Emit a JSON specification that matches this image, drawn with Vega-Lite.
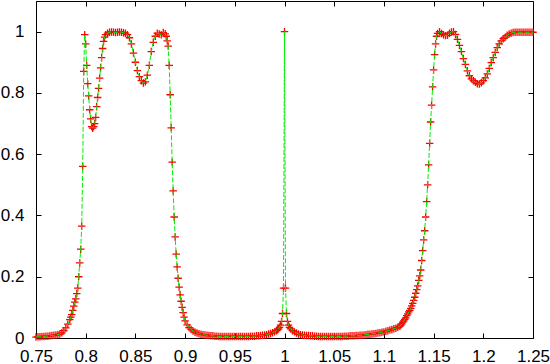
{
"$schema": "https://vega.github.io/schema/vega-lite/v6.json",
"width": 497, "height": 337,
"autosize": {"type": "none"},
"padding": {"left": 36, "top": 1, "right": 17, "bottom": 26},
"background": "white",
"config": {"view": {"stroke": "black", "strokeWidth": 1}, "axis": {"domain": false, "grid": false, "tickColor": "black", "tickSize": -5, "tickWidth": 1, "labelFont": "Liberation Sans", "labelFontSize": 17, "labelColor": "black", "labelFlush": false, "labelOverlap": false, "title": null}},
"data": {"values": [
{"x":0.750,"y":0.003},{"x":0.752,"y":0.004},{"x":0.754,"y":0.004},{"x":0.756,"y":0.005},{"x":0.758,"y":0.005},{"x":0.760,"y":0.006},{"x":0.762,"y":0.006},{"x":0.764,"y":0.007},{"x":0.766,"y":0.008},{"x":0.768,"y":0.009},{"x":0.770,"y":0.010},{"x":0.772,"y":0.011},{"x":0.774,"y":0.013},{"x":0.776,"y":0.017},{"x":0.778,"y":0.024},{"x":0.780,"y":0.033},{"x":0.782,"y":0.045},{"x":0.784,"y":0.060},
{"x":0.785,"y":0.068},{"x":0.786,"y":0.076},{"x":0.787,"y":0.090},{"x":0.788,"y":0.104},{"x":0.789,"y":0.117},{"x":0.790,"y":0.128},{"x":0.791,"y":0.145},{"x":0.792,"y":0.163},{"x":0.793,"y":0.200},{"x":0.794,"y":0.245},{"x":0.795,"y":0.290},{"x":0.796,"y":0.365},{"x":0.797,"y":0.560},{"x":0.798,"y":0.870},{"x":0.799,"y":0.990},{"x":0.800,"y":0.960},{"x":0.801,"y":0.890},{"x":0.802,"y":0.830},{"x":0.803,"y":0.790},{"x":0.804,"y":0.745},{"x":0.805,"y":0.715},{"x":0.806,"y":0.690},{"x":0.807,"y":0.685},{"x":0.808,"y":0.690},{"x":0.809,"y":0.700},{"x":0.810,"y":0.720},{"x":0.811,"y":0.755},{"x":0.812,"y":0.785},{"x":0.813,"y":0.815},{"x":0.814,"y":0.848},{"x":0.815,"y":0.882},{"x":0.816,"y":0.915},{"x":0.817,"y":0.945},{"x":0.818,"y":0.968},{"x":0.819,"y":0.982},{"x":0.820,"y":0.990},
{"x":0.822,"y":0.995},{"x":0.824,"y":0.998},{"x":0.826,"y":0.999},{"x":0.828,"y":0.998},{"x":0.830,"y":0.997},{"x":0.832,"y":0.998},{"x":0.834,"y":0.999},{"x":0.836,"y":0.998},{"x":0.838,"y":0.996},{"x":0.840,"y":0.995},{"x":0.842,"y":0.990},{"x":0.844,"y":0.980},{"x":0.846,"y":0.960},{"x":0.848,"y":0.930},{"x":0.850,"y":0.900},{"x":0.852,"y":0.873},{"x":0.854,"y":0.853},{"x":0.856,"y":0.840},{"x":0.858,"y":0.832},{"x":0.860,"y":0.836},{"x":0.862,"y":0.858},{"x":0.864,"y":0.890},{"x":0.866,"y":0.935},{"x":0.868,"y":0.965},{"x":0.870,"y":0.985},{"x":0.872,"y":0.995},{"x":0.874,"y":0.992},{"x":0.876,"y":0.990},{"x":0.878,"y":0.997},{"x":0.880,"y":0.993},
{"x":0.881,"y":0.985},{"x":0.882,"y":0.970},{"x":0.883,"y":0.953},{"x":0.884,"y":0.890},{"x":0.885,"y":0.794},{"x":0.886,"y":0.686},{"x":0.887,"y":0.574},{"x":0.888,"y":0.480},{"x":0.889,"y":0.395},{"x":0.890,"y":0.330},{"x":0.891,"y":0.274},{"x":0.892,"y":0.232},{"x":0.893,"y":0.195},{"x":0.894,"y":0.166},{"x":0.895,"y":0.141},{"x":0.896,"y":0.120},{"x":0.897,"y":0.100},{"x":0.898,"y":0.083},{"x":0.899,"y":0.068},{"x":0.900,"y":0.056},
{"x":0.902,"y":0.043},{"x":0.904,"y":0.034},{"x":0.906,"y":0.028},{"x":0.908,"y":0.023},{"x":0.910,"y":0.019},{"x":0.912,"y":0.016},{"x":0.914,"y":0.014},{"x":0.916,"y":0.012},{"x":0.918,"y":0.011},{"x":0.920,"y":0.010},{"x":0.922,"y":0.009},{"x":0.924,"y":0.008},{"x":0.926,"y":0.007},{"x":0.928,"y":0.007},{"x":0.930,"y":0.006},{"x":0.932,"y":0.006},{"x":0.934,"y":0.005},{"x":0.936,"y":0.005},{"x":0.938,"y":0.005},{"x":0.940,"y":0.005},{"x":0.942,"y":0.005},{"x":0.944,"y":0.005},{"x":0.946,"y":0.005},{"x":0.948,"y":0.005},{"x":0.950,"y":0.005},{"x":0.952,"y":0.005},{"x":0.954,"y":0.005},{"x":0.956,"y":0.005},{"x":0.958,"y":0.005},{"x":0.960,"y":0.005},{"x":0.962,"y":0.005},{"x":0.964,"y":0.005},{"x":0.966,"y":0.006},{"x":0.968,"y":0.006},{"x":0.970,"y":0.006},{"x":0.972,"y":0.007},{"x":0.974,"y":0.007},{"x":0.976,"y":0.008},{"x":0.978,"y":0.009},{"x":0.980,"y":0.010},{"x":0.982,"y":0.011},{"x":0.984,"y":0.013},{"x":0.986,"y":0.015},{"x":0.988,"y":0.017},{"x":0.990,"y":0.020},{"x":0.992,"y":0.024},
{"x":0.993,"y":0.027},{"x":0.994,"y":0.030},{"x":0.995,"y":0.035},{"x":0.996,"y":0.042},{"x":0.997,"y":0.054},{"x":0.998,"y":0.080},{"x":0.999,"y":0.163},{"x":1.000,"y":1.000},{"x":1.001,"y":0.163},{"x":1.002,"y":0.080},{"x":1.003,"y":0.054},{"x":1.004,"y":0.042},{"x":1.005,"y":0.035},{"x":1.006,"y":0.030},
{"x":1.008,"y":0.024},{"x":1.010,"y":0.020},{"x":1.012,"y":0.016},{"x":1.014,"y":0.013},{"x":1.016,"y":0.011},{"x":1.018,"y":0.010},{"x":1.020,"y":0.009},{"x":1.022,"y":0.008},{"x":1.024,"y":0.008},{"x":1.026,"y":0.007},{"x":1.028,"y":0.007},{"x":1.030,"y":0.006},{"x":1.032,"y":0.006},{"x":1.034,"y":0.005},{"x":1.036,"y":0.005},{"x":1.038,"y":0.005},{"x":1.040,"y":0.005},{"x":1.042,"y":0.005},{"x":1.044,"y":0.005},{"x":1.046,"y":0.005},{"x":1.048,"y":0.005},{"x":1.050,"y":0.005},{"x":1.052,"y":0.005},{"x":1.054,"y":0.005},{"x":1.056,"y":0.005},{"x":1.058,"y":0.005},{"x":1.060,"y":0.006},{"x":1.062,"y":0.006},{"x":1.064,"y":0.006},{"x":1.066,"y":0.007},{"x":1.068,"y":0.007},{"x":1.070,"y":0.007},{"x":1.072,"y":0.008},{"x":1.074,"y":0.008},{"x":1.076,"y":0.009},{"x":1.078,"y":0.009},{"x":1.080,"y":0.010},{"x":1.082,"y":0.011},{"x":1.084,"y":0.012},{"x":1.086,"y":0.012},{"x":1.088,"y":0.013},{"x":1.090,"y":0.014},{"x":1.092,"y":0.015},{"x":1.094,"y":0.016},{"x":1.096,"y":0.017},{"x":1.098,"y":0.019},{"x":1.100,"y":0.020},{"x":1.102,"y":0.022},{"x":1.104,"y":0.024},{"x":1.106,"y":0.026},{"x":1.108,"y":0.028},{"x":1.110,"y":0.030},{"x":1.112,"y":0.032},{"x":1.114,"y":0.035},{"x":1.116,"y":0.038},
{"x":1.117,"y":0.042},{"x":1.118,"y":0.046},{"x":1.119,"y":0.052},{"x":1.120,"y":0.056},{"x":1.121,"y":0.061},{"x":1.122,"y":0.066},{"x":1.123,"y":0.073},{"x":1.124,"y":0.079},{"x":1.125,"y":0.085},{"x":1.126,"y":0.090},{"x":1.127,"y":0.097},{"x":1.128,"y":0.105},{"x":1.129,"y":0.113},{"x":1.130,"y":0.123},{"x":1.131,"y":0.133},{"x":1.132,"y":0.146},{"x":1.133,"y":0.158},{"x":1.134,"y":0.170},{"x":1.135,"y":0.188},{"x":1.136,"y":0.203},{"x":1.137,"y":0.222},{"x":1.138,"y":0.253},{"x":1.139,"y":0.285},{"x":1.140,"y":0.320},{"x":1.141,"y":0.350},{"x":1.142,"y":0.395},{"x":1.143,"y":0.445},{"x":1.144,"y":0.500},{"x":1.145,"y":0.565},{"x":1.146,"y":0.635},{"x":1.147,"y":0.705},{"x":1.148,"y":0.760},{"x":1.149,"y":0.820},{"x":1.150,"y":0.875},{"x":1.151,"y":0.925},{"x":1.152,"y":0.960},{"x":1.153,"y":0.985},{"x":1.154,"y":0.994},
{"x":1.156,"y":1.000},{"x":1.158,"y":0.994},{"x":1.160,"y":0.990},{"x":1.162,"y":0.987},{"x":1.164,"y":0.988},{"x":1.166,"y":0.995},{"x":1.168,"y":0.999},{"x":1.170,"y":1.000},{"x":1.172,"y":0.991},{"x":1.174,"y":0.975},{"x":1.176,"y":0.955},{"x":1.178,"y":0.935},{"x":1.180,"y":0.912},{"x":1.182,"y":0.893},{"x":1.184,"y":0.872},{"x":1.186,"y":0.856},{"x":1.188,"y":0.846},{"x":1.190,"y":0.840},{"x":1.192,"y":0.835},{"x":1.194,"y":0.830},{"x":1.196,"y":0.829},{"x":1.198,"y":0.833},{"x":1.200,"y":0.840},{"x":1.202,"y":0.849},{"x":1.204,"y":0.862},{"x":1.206,"y":0.880},{"x":1.208,"y":0.899},{"x":1.210,"y":0.915},{"x":1.212,"y":0.932},{"x":1.214,"y":0.948},{"x":1.216,"y":0.960},{"x":1.218,"y":0.970},{"x":1.220,"y":0.977},{"x":1.222,"y":0.982},{"x":1.224,"y":0.988},{"x":1.226,"y":0.992},{"x":1.228,"y":0.995},{"x":1.230,"y":0.997},{"x":1.232,"y":0.998},{"x":1.234,"y":0.998},{"x":1.236,"y":0.998},{"x":1.238,"y":0.998},{"x":1.240,"y":0.998},{"x":1.242,"y":0.998},{"x":1.244,"y":0.998},{"x":1.246,"y":0.998},{"x":1.248,"y":0.998},{"x":1.250,"y":0.998}
]},
"layer": [
{"mark": {"type": "point", "shape": "M-1,0L1,0M0,-1L0,1", "stroke": "#ff0000", "filled": false, "size": 56, "strokeWidth": 1.3, "opacity": 1},
 "encoding": {
  "x": {"field": "x", "type": "quantitative", "scale": {"domain": [0.75, 1.25], "nice": false, "zero": false}, "axis": {"orient": "bottom", "values": [0.75,0.8,0.85,0.9,0.95,1,1.05,1.1,1.15,1.2,1.25], "format": "~g", "labelPadding": 15}},
  "y": {"field": "y", "type": "quantitative", "scale": {"domain": [0, 1.1], "nice": false, "zero": false}, "axis": {"orient": "left", "values": [0,0.2,0.4,0.6,0.8,1], "format": "~g", "labelPadding": 17}}
 }},
{"mark": {"type": "line", "stroke": "#00ee00", "strokeWidth": 1, "strokeDash": [5, 2]},
 "encoding": {
  "x": {"field": "x", "type": "quantitative", "sort": null, "axis": {"orient": "top", "values": [0.75,0.8,0.85,0.9,0.95,1,1.05,1.1,1.15,1.2,1.25], "labels": false}},
  "y": {"field": "y", "type": "quantitative", "axis": {"orient": "right", "values": [0,0.2,0.4,0.6,0.8,1], "labels": false}}
 }}
],
"resolve": {"axis": {"x": "independent", "y": "independent"}}
}
